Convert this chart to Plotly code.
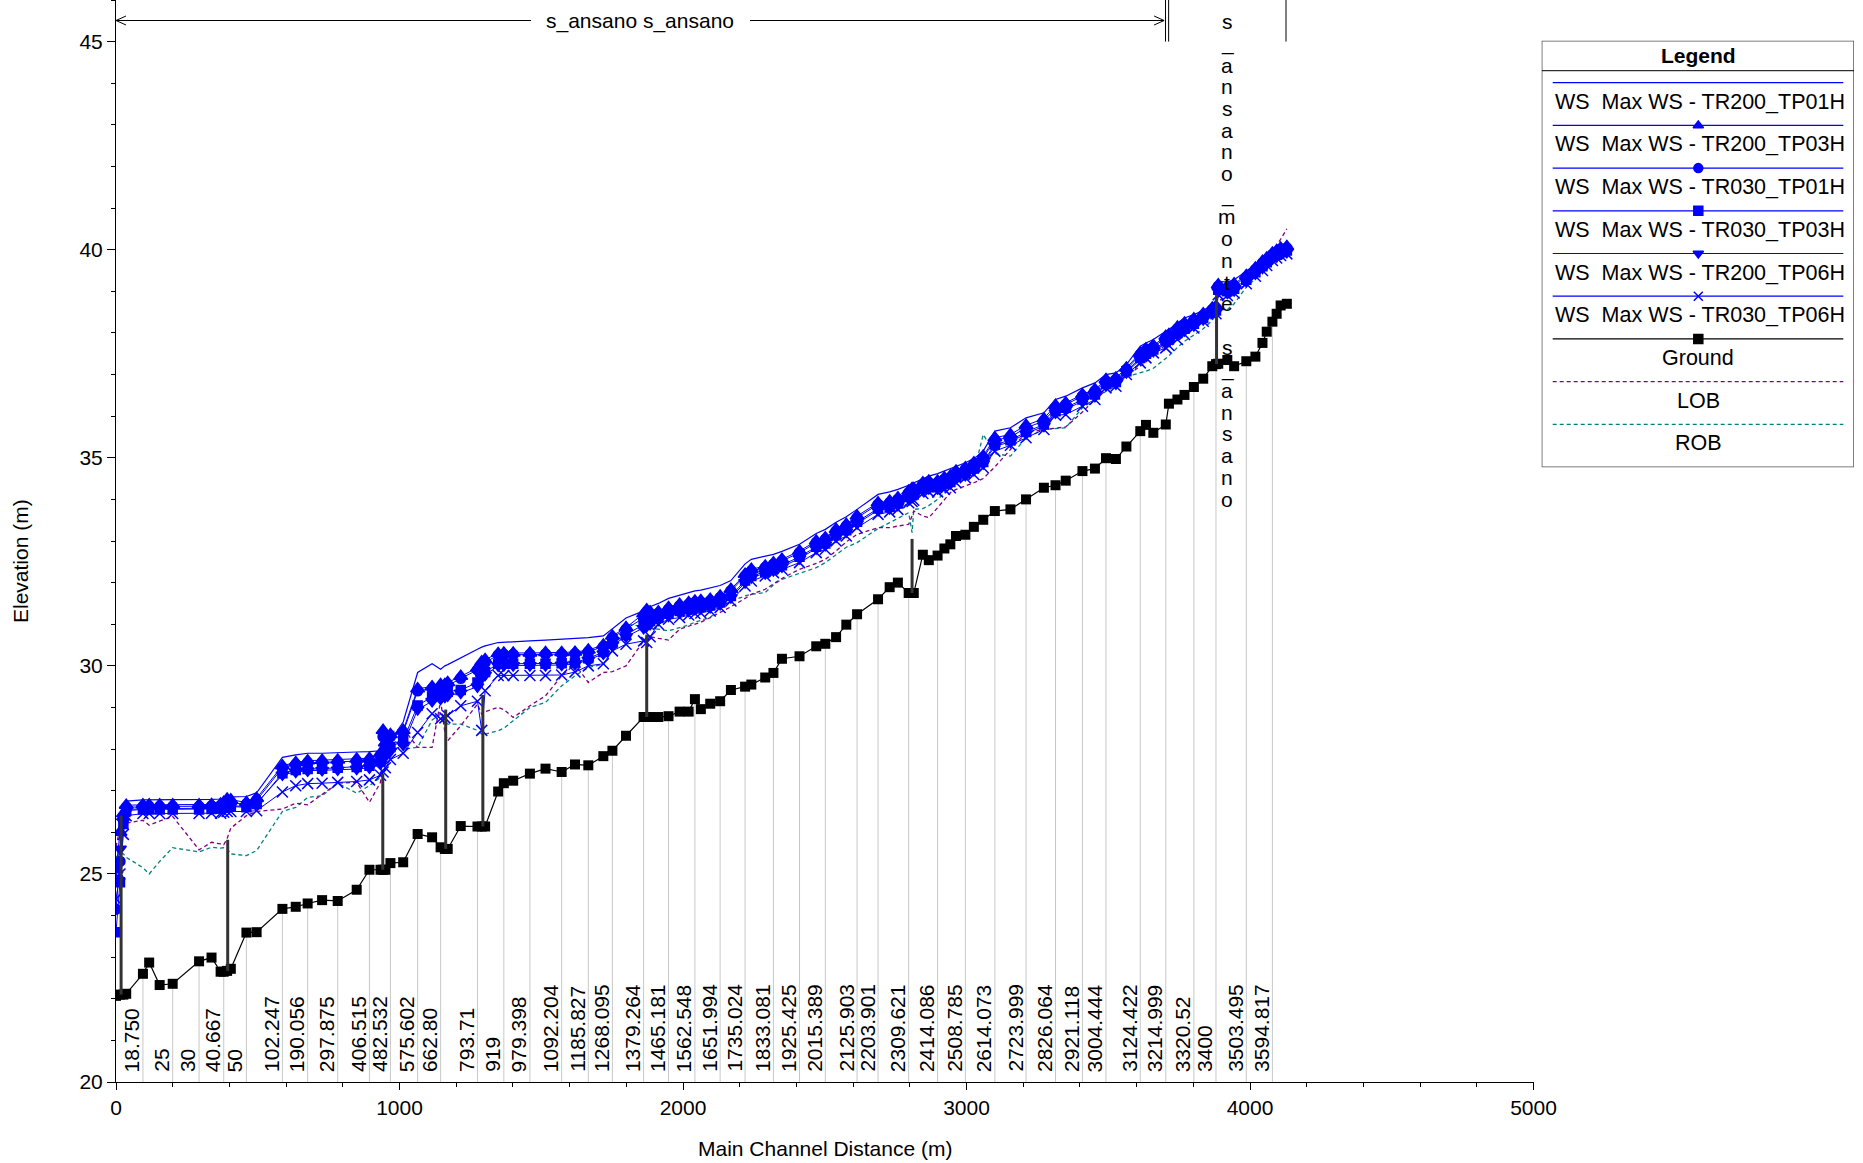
import numpy as np
import plotly.graph_objects as go

# ---------------- data ----------------
dist = [0, 14, 26, 36, 95, 117, 154, 200, 293, 337,
        369, 380, 392, 405, 460, 496, 587, 634, 676, 727,
        782, 849, 894, 933, 942, 950, 968, 1013, 1064, 1115,
        1145, 1160, 1170, 1216, 1275, 1290, 1302, 1348, 1368, 1401,
        1460, 1515, 1572, 1619, 1666, 1719, 1751, 1799, 1861, 1872,
        1884, 1913, 1949, 1988, 2020, 2042, 2063, 2096, 2131, 2169,
        2219, 2241, 2290, 2319, 2349, 2411, 2470, 2502, 2540, 2576,
        2614, 2688, 2729, 2758, 2796, 2808, 2814, 2846, 2867, 2898,
        2922, 2943, 2963, 2996, 3026, 3059, 3100, 3155, 3210, 3273,
        3314, 3350, 3409, 3453, 3492, 3527, 3564, 3613, 3633, 3659,
        3703, 3714, 3744, 3769, 3802, 3835, 3867, 3880, 3888, 3920,
        3944, 3987, 4019, 4044, 4059, 4079, 4094, 4108, 4130]

ground = [22.07, 22.10, 22.10, 22.12, 22.60, 22.87, 22.33, 22.36, 22.90, 22.99,
          22.65, 22.65, 22.67, 22.72, 23.59, 23.60, 24.16, 24.21, 24.29, 24.37,
          24.35, 24.62, 25.10, 25.10, 25.10, 25.10, 25.26, 25.28, 25.96, 25.88,
          25.64, 25.60, 25.60, 26.15, 26.14, 26.14, 26.14, 26.98, 27.18, 27.24,
          27.41, 27.53, 27.45, 27.63, 27.61, 27.83, 27.96, 28.32, 28.77, 28.77,
          28.77, 28.77, 28.79, 28.90, 28.90, 29.20, 28.96, 29.09, 29.15, 29.42,
          29.50, 29.55, 29.72, 29.83, 30.17, 30.23, 30.47, 30.53, 30.69, 30.99,
          31.24, 31.60, 31.89, 32.00, 31.75, 31.75, 31.75, 32.67, 32.54, 32.65,
          32.82, 32.92, 33.12, 33.15, 33.34, 33.51, 33.72, 33.76, 34.00, 34.28,
          34.34, 34.45, 34.68, 34.74, 34.99, 34.97, 35.27, 35.64, 35.79, 35.60,
          35.80, 36.30, 36.40, 36.51, 36.70, 36.90, 37.20, 37.25, 37.26, 37.35,
          37.20, 37.32, 37.43, 37.76, 38.03, 38.27, 38.46, 38.66, 38.70]

ws_tr200_tp01h = [26.30, 26.40, 26.55, 26.75, 26.78, 26.78, 26.78, 26.78, 26.78, 26.79,
                  26.80, 26.82, 26.85, 26.85, 26.86, 26.95, 27.80, 27.86, 27.90, 27.90,
                  27.92, 27.93, 27.94, 27.96, 28.00, 28.10, 28.20, 28.65, 29.84, 30.05,
                  29.92, 30.00, 30.03, 30.20, 30.40, 30.45, 30.48, 30.56, 30.57, 30.58,
                  30.60, 30.62, 30.64, 30.66, 30.68, 30.72, 30.90, 31.15, 31.32, 31.40,
                  31.42, 31.50, 31.62, 31.70, 31.76, 31.80, 31.82, 31.88, 31.93, 32.05,
                  32.45, 32.56, 32.64, 32.68, 32.75, 32.92, 33.18, 33.28, 33.45, 33.58,
                  33.76, 34.12, 34.18, 34.24, 34.34, 34.38, 34.40, 34.50, 34.56, 34.62,
                  34.68, 34.74, 34.80, 34.88, 34.98, 35.16, 35.64, 35.72, 35.96, 36.08,
                  36.40, 36.48, 36.68, 36.80, 37.00, 37.04, 37.24, 37.68, 37.76, 37.84,
                  38.04, 38.08, 38.24, 38.36, 38.44, 38.54, 38.68, 38.72, 39.24, 39.22,
                  39.28, 39.48, 39.66, 39.82, 39.90, 40.00, 40.06, 40.12, 40.14]

ws_tr200_tp03h = [25.10, 26.00, 26.45, 26.65, 26.66, 26.66, 26.66, 26.66, 26.66, 26.67,
                  26.68, 26.72, 26.80, 26.78, 26.72, 26.82, 27.60, 27.68, 27.72, 27.73,
                  27.74, 27.76, 27.78, 27.90, 28.45, 28.15, 28.35, 28.45, 29.45, 29.50,
                  29.55, 29.55, 29.60, 29.75, 29.95, 30.10, 30.15, 30.30, 30.31, 30.31,
                  30.31, 30.32, 30.32, 30.33, 30.38, 30.50, 30.72, 30.92, 31.25, 31.35,
                  31.30, 31.30, 31.40, 31.48, 31.52, 31.56, 31.57, 31.60, 31.68, 31.84,
                  32.20, 32.32, 32.40, 32.48, 32.56, 32.76, 33.00, 33.08, 33.28, 33.40,
                  33.60, 33.92, 33.96, 34.04, 34.20, 34.26, 34.26, 34.40, 34.44, 34.44,
                  34.52, 34.56, 34.68, 34.76, 34.88, 35.04, 35.48, 35.56, 35.78, 35.94,
                  36.26, 36.32, 36.52, 36.64, 36.88, 36.92, 37.16, 37.52, 37.62, 37.70,
                  37.92, 37.96, 38.14, 38.24, 38.34, 38.46, 38.60, 38.64, 39.16, 39.12,
                  39.18, 39.38, 39.56, 39.72, 39.80, 39.92, 39.98, 40.04, 40.08]

ws_tr030_tp01h = [24.15, 25.30, 26.35, 26.60, 26.62, 26.62, 26.62, 26.62, 26.62, 26.63,
                  26.64, 26.66, 26.70, 26.70, 26.68, 26.77, 27.55, 27.63, 27.67, 27.68,
                  27.69, 27.70, 27.72, 27.85, 28.30, 28.05, 28.30, 28.40, 29.40, 29.45,
                  29.48, 29.50, 29.52, 29.70, 29.90, 30.00, 30.08, 30.26, 30.27, 30.27,
                  30.27, 30.28, 30.28, 30.29, 30.34, 30.46, 30.68, 30.88, 31.15, 31.25,
                  31.22, 31.26, 31.36, 31.44, 31.48, 31.52, 31.53, 31.56, 31.64, 31.80,
                  32.16, 32.28, 32.36, 32.44, 32.52, 32.72, 32.96, 33.04, 33.24, 33.36,
                  33.56, 33.88, 33.92, 34.00, 34.16, 34.20, 34.22, 34.36, 34.40, 34.40,
                  34.48, 34.52, 34.64, 34.72, 34.84, 35.00, 35.42, 35.50, 35.72, 35.88,
                  36.20, 36.28, 36.48, 36.60, 36.84, 36.88, 37.12, 37.48, 37.58, 37.66,
                  37.88, 37.92, 38.10, 38.20, 38.30, 38.42, 38.56, 38.60, 39.12, 39.08,
                  39.14, 39.34, 39.52, 39.68, 39.76, 39.88, 39.94, 40.00, 40.04]

ws_tr030_tp03h = [23.60, 24.80, 26.20, 26.52, 26.55, 26.55, 26.55, 26.55, 26.55, 26.56,
                  26.57, 26.59, 26.62, 26.62, 26.60, 26.68, 27.42, 27.50, 27.52, 27.53,
                  27.55, 27.57, 27.60, 27.70, 27.85, 27.90, 28.05, 28.20, 29.05, 29.25,
                  29.35, 29.35, 29.38, 29.42, 29.60, 29.80, 29.85, 30.05, 30.05, 30.05,
                  30.05, 30.05, 30.06, 30.08, 30.18, 30.33, 30.55, 30.75, 31.00, 31.05,
                  31.08, 31.15, 31.25, 31.32, 31.36, 31.40, 31.42, 31.45, 31.52, 31.68,
                  32.05, 32.16, 32.26, 32.33, 32.42, 32.62, 32.86, 32.94, 33.14, 33.26,
                  33.46, 33.78, 33.82, 33.90, 34.06, 34.10, 34.12, 34.26, 34.30, 34.30,
                  34.38, 34.42, 34.54, 34.62, 34.74, 34.90, 35.32, 35.42, 35.62, 35.80,
                  36.12, 36.20, 36.40, 36.52, 36.78, 36.82, 37.08, 37.40, 37.50, 37.60,
                  37.80, 37.84, 38.00, 38.10, 38.22, 38.36, 38.50, 38.54, 39.04, 39.00,
                  39.06, 39.28, 39.46, 39.60, 39.70, 39.82, 39.88, 39.94, 39.98]

ws_tr200_tp06h = [24.90, 25.60, 26.25, 26.55, 26.57, 26.57, 26.57, 26.57, 26.57, 26.58,
                  26.59, 26.61, 26.64, 26.64, 26.62, 26.70, 27.38, 27.45, 27.48, 27.49,
                  27.50, 27.52, 27.55, 27.65, 27.80, 27.85, 27.95, 28.10, 28.95, 29.15,
                  29.20, 29.25, 29.28, 29.35, 29.50, 29.70, 29.78, 30.00, 30.01, 30.01,
                  30.01, 30.01, 30.02, 30.04, 30.14, 30.29, 30.50, 30.70, 30.90, 30.95,
                  31.00, 31.10, 31.20, 31.28, 31.32, 31.36, 31.38, 31.41, 31.48, 31.64,
                  32.00, 32.12, 32.22, 32.29, 32.38, 32.58, 32.82, 32.90, 33.10, 33.22,
                  33.42, 33.74, 33.78, 33.86, 34.02, 34.05, 34.08, 34.22, 34.26, 34.26,
                  34.34, 34.38, 34.50, 34.58, 34.70, 34.86, 35.28, 35.38, 35.58, 35.76,
                  36.08, 36.16, 36.36, 36.48, 36.74, 36.78, 37.05, 37.36, 37.46, 37.56,
                  37.76, 37.80, 37.96, 38.06, 38.18, 38.32, 38.47, 38.50, 39.00, 38.96,
                  39.02, 39.24, 39.42, 39.56, 39.66, 39.78, 39.84, 39.90, 39.94]

ws_tr030_tp06h = [24.40, 25.00, 25.95, 26.40, 26.45, 26.45, 26.45, 26.45, 26.45, 26.46,
                  26.46, 26.48, 26.50, 26.50, 26.50, 26.52, 26.97, 27.12, 27.17, 27.18,
                  27.20, 27.22, 27.26, 27.37, 27.45, 27.55, 27.75, 27.90, 28.40, 28.85,
                  28.73, 28.75, 28.80, 29.04, 29.15, 28.45, 29.40, 29.77, 29.77, 29.77,
                  29.77, 29.77, 29.78, 29.85, 30.00, 30.05, 30.36, 30.52, 30.60, 30.56,
                  30.70, 31.00, 31.12, 31.16, 31.22, 31.26, 31.27, 31.32, 31.40, 31.56,
                  31.92, 32.04, 32.16, 32.24, 32.32, 32.48, 32.72, 32.80, 33.00, 33.12,
                  33.32, 33.64, 33.70, 33.76, 33.92, 33.95, 33.98, 34.14, 34.18, 34.18,
                  34.24, 34.28, 34.40, 34.52, 34.60, 34.76, 35.16, 35.30, 35.48, 35.68,
                  36.02, 36.04, 36.24, 36.40, 36.68, 36.72, 37.00, 37.28, 37.40, 37.52,
                  37.64, 37.70, 37.84, 37.96, 38.12, 38.28, 38.44, 38.46, 38.92, 38.90,
                  38.96, 39.18, 39.36, 39.50, 39.62, 39.74, 39.80, 39.86, 39.90]

lob = [25.65, 26.10, 26.20, 26.22, 26.29, 26.17, 26.27, 26.38, 25.58, 25.76,
       25.72, 25.70, 25.85, 26.10, 26.40, 26.50, 26.56, 26.70, 26.66, 26.92,
       27.18, 27.20, 26.72, 27.20, 28.30, 28.36, 28.40, 28.50, 28.04, 28.04,
       29.16, 28.40, 28.20, 28.56, 29.08, 28.84, 28.90, 29.00, 28.95, 28.76,
       29.04, 29.28, 29.76, 30.04, 29.60, 29.84, 29.86, 30.00, 30.60, 30.64,
       30.70, 30.66, 30.62, 30.88, 30.95, 31.00, 31.05, 31.16, 31.28, 31.42,
       31.62, 31.72, 31.84, 31.96, 32.10, 32.32, 32.46, 32.56, 32.76, 32.98,
       33.16, 33.32, 33.32, 33.36, 33.40, 33.60, 33.72, 33.60, 33.56, 33.80,
       34.00, 34.16, 34.24, 34.32, 34.40, 34.50, 34.78, 35.20, 35.60, 35.68,
       35.72, 35.74, 36.10, 36.40, 36.62, 36.76, 36.96, 37.20, 37.30, 37.48,
       37.70, 37.76, 37.92, 38.00, 38.15, 38.32, 38.50, 38.62, 38.76, 38.90,
       39.00, 39.26, 39.45, 39.60, 39.75, 39.95, 40.10, 40.25, 40.50]

rob = [25.40, 25.50, 25.48, 25.40, 25.15, 25.00, 25.30, 25.63, 25.53, 25.64,
       25.62, 25.63, 25.60, 25.48, 25.44, 25.56, 26.50, 26.60, 26.84, 26.88,
       27.18, 26.94, 27.12, 27.32, 28.00, 28.20, 28.30, 28.00, 28.04, 28.70,
       28.84, 28.70, 28.60, 28.60, 28.45, 28.36, 28.36, 28.44, 28.50, 28.68,
       29.00, 29.12, 29.52, 29.76, 29.96, 30.04, 30.37, 31.00, 30.95, 30.92,
       30.90, 30.88, 30.84, 30.92, 30.98, 31.05, 31.10, 31.16, 31.40, 31.55,
       31.68, 31.72, 31.76, 31.95, 32.08, 32.22, 32.36, 32.48, 32.68, 32.85,
       32.96, 33.30, 33.44, 33.55, 33.68, 33.20, 33.76, 33.78, 33.85, 34.00,
       34.15, 34.32, 34.40, 34.48, 34.65, 35.56, 35.10, 35.04, 35.48, 35.68,
       35.70, 35.72, 36.20, 36.40, 36.60, 36.72, 36.95, 37.04, 37.08, 37.15,
       37.40, 37.45, 37.65, 37.80, 37.95, 38.10, 38.30, 38.48, 38.56, 38.56,
       38.70, 39.10, 39.30, 39.52, 39.62, 39.78, 39.84, 39.88, 39.92]

station_labels = ["18.750", "25", "30", "40.667", "50", "102.247", "190.056", "297.875",
                  "406.515", "482.532", "575.602", "662.80", "793.71", "919", "979.398",
                  "1092.204", "1185.827", "1268.095", "1379.264", "1465.181", "1562.548",
                  "1651.994", "1735.024", "1833.081", "1925.425", "2015.389", "2125.903",
                  "2203.901", "2309.621", "2414.086", "2508.785", "2614.073", "2723.999",
                  "2826.064", "2921.118", "3004.444", "3124.422", "3214.999", "3320.52",
                  "3400", "3503.495", "3594.817"]
station_dist = [95, 200, 293, 380, 460, 587, 676, 782, 894, 968,
                1064, 1145, 1275, 1368, 1460, 1572, 1666, 1751, 1861, 1949,
                2042, 2131, 2219, 2319, 2411, 2502, 2614, 2688, 2796, 2898,
                2996, 3100, 3210, 3314, 3409, 3492, 3613, 3703, 3802, 3880,
                3987, 4079]

struct_dist = [18, 394, 941, 1163, 1294, 1872, 2808, 3882]
struct_bottom = [22.10, 22.67, 25.10, 25.60, 26.14, 28.77, 31.75, 37.25]
struct_top = [26.40, 25.82, 27.40, 28.95, 29.30, 30.75, 33.05, 38.92]

reach_main = "s_ansano s_ansano"
reach_up = "s_ansano_monte s_ansano"
reach_bounds = [0, 3697, 3702, 3713, 4127]

x_ticks = [0, 1000, 2000, 3000, 4000, 5000]
y_ticks = [20, 25, 30, 35, 40, 45]

# ---------------- layout constants ----------------
W, H = 1863, 1163
X0, X1 = 116.0, 1533.5
YB = 1082.0
FONT = "Liberation Sans, Arial, Helvetica, sans-serif"
BLUE = "#0000FF"
PURPLE = "#800080"
TEAL = "#008080"

fig = go.Figure()

# cross-section gray lines
tops = np.interp(station_dist, dist, ground)
gx, gy = [], []
for d, t in zip(station_dist, tops):
    gx += [d, d, None]
    gy += [t, 20, None]
fig.add_trace(go.Scatter(x=gx, y=gy, mode="lines", line=dict(color="#c8c8c8", width=1),
                         hoverinfo="skip", showlegend=False))

# bank lines
fig.add_trace(go.Scatter(x=dist, y=rob, mode="lines", line=dict(color=TEAL, width=1.3, dash="4px,3px"),
                         showlegend=False))
fig.add_trace(go.Scatter(x=dist, y=lob, mode="lines", line=dict(color=PURPLE, width=1.3, dash="4px,3px"),
                         showlegend=False))

ws_series = [
    (ws_tr030_tp06h, "x-thin-open", 11),
    (ws_tr200_tp06h, "triangle-down", 11),
    (ws_tr030_tp03h, "square", 9),
    (ws_tr030_tp01h, "circle", 10),
    (ws_tr200_tp03h, "triangle-up", 12),
]
for vals, sym, sz in ws_series:
    fig.add_trace(go.Scatter(x=dist, y=vals, mode="lines+markers",
                             line=dict(color=BLUE, width=1),
                             marker=dict(symbol=sym, size=sz, color=BLUE,
                                         line=dict(color=BLUE, width=1.5)),
                             showlegend=False))
fig.add_trace(go.Scatter(x=dist, y=ws_tr200_tp01h, mode="lines",
                         line=dict(color=BLUE, width=1.2), showlegend=False))

# ground
fig.add_trace(go.Scatter(x=dist, y=ground, mode="lines+markers",
                         line=dict(color="black", width=1.2),
                         marker=dict(symbol="square", size=10, color="black"),
                         showlegend=False))

# structures
sx, sy = [], []
for d, b, t in zip(struct_dist, struct_bottom, struct_top):
    sx += [d, d, None]
    sy += [b, t, None]
fig.add_trace(go.Scatter(x=sx, y=sy, mode="lines", line=dict(color="#333333", width=3),
                         showlegend=False))

annotations = []
shapes = []

# station labels
for lab, d in zip(station_labels, station_dist):
    annotations.append(dict(x=d, y=20, xref="x", yref="y", text=lab, textangle=-90,
                            showarrow=False, xanchor="right", yanchor="bottom",
                            xshift=2, yshift=8, font=dict(family=FONT, size=21, color="black")))

# reach annotation at top
px_x = 5000.0 / (X1 - X0)          # metres per pixel
px_y = 26.0 / YB                    # elevation per pixel
y_arrow = 20 + (YB - 20.5) * px_y
left_gap = (531 - X0) * px_x
right_gap = (750 - X0) * px_x
lc = dict(color="black", width=1)
shapes += [
    dict(type="line", xref="x", yref="y", x0=reach_bounds[0], x1=left_gap, y0=y_arrow, y1=y_arrow, line=lc),
    dict(type="line", xref="x", yref="y", x0=right_gap, x1=reach_bounds[1], y0=y_arrow, y1=y_arrow, line=lc),
]
ah_x, ah_y = 10 * px_x, 4.5 * px_y
for xe, sgn in [(reach_bounds[0], 1), (reach_bounds[1], -1)]:
    shapes.append(dict(type="path", xref="x", yref="y",
                       path=f"M {xe + sgn*ah_x},{y_arrow + ah_y} L {xe},{y_arrow} L {xe + sgn*ah_x},{y_arrow - ah_y}",
                       line=lc))
for xv in reach_bounds[2:]:
    shapes.append(dict(type="line", xref="x", yref="y", x0=xv, x1=xv, y0=45.0, y1=46.0, line=lc))

annotations.append(dict(x=(640 - X0) * px_x, y=y_arrow, xref="x", yref="y", text=reach_main,
                        showarrow=False, xanchor="center", yanchor="middle",
                        font=dict(family=FONT, size=21, color="black")))
# vertical reach name, one character per line
x_vert = (1227 - X0) * px_x
for i, c in enumerate(reach_up):
    if c == " ":
        continue
    yc = 21.7 + 21.7 * i
    annotations.append(dict(x=x_vert, y=1 - yc / H, xref="x", yref="paper", text=c,
                            showarrow=False, xanchor="center", yanchor="middle",
                            font=dict(family=FONT, size=21, color="black")))

# axis titles
annotations.append(dict(x=(X0 + X1) / 2 / W, y=1 - 1148 / H, xref="paper", yref="paper",
                        text="Main Channel Distance (m)", showarrow=False,
                        xanchor="center", yanchor="middle", font=dict(family=FONT, size=21, color="black")))
annotations.append(dict(x=20 / W, y=1 - 561 / H, xref="paper", yref="paper",
                        text="Elevation (m)", showarrow=False, textangle=-90,
                        xanchor="center", yanchor="middle", font=dict(family=FONT, size=21, color="black")))

# ---------------- legend (drawn on its own pixel-unit axes) ----------------
LX0, LX1, LY0, LY1 = 1541.7, 1854.0, 40.7, 467.3
legend_items = [
    ("WS\u00a0\u00a0Max WS - TR200_TP01H", BLUE, "solid", None, "left"),
    ("WS\u00a0\u00a0Max WS - TR200_TP03H", BLUE, "solid", "triangle-up", "left"),
    ("WS\u00a0\u00a0Max WS - TR030_TP01H", BLUE, "solid", "circle", "left"),
    ("WS\u00a0\u00a0Max WS - TR030_TP03H", BLUE, "solid", "square", "left"),
    ("WS\u00a0\u00a0Max WS - TR200_TP06H", BLUE, "solid", "triangle-down", "left"),
    ("WS\u00a0\u00a0Max WS - TR030_TP06H", BLUE, "solid", "x-thin-open", "left"),
    ("Ground", "black", "solid", "square", "center"),
    ("LOB", PURPLE, "4px,3px", None, "center"),
    ("ROB", TEAL, "4px,3px", None, "center"),
]
line_y0, step = 82.7, 42.7
for i, (txt, col, dash, sym, al) in enumerate(legend_items):
    yl = line_y0 + i * step
    fig.add_trace(go.Scatter(x=[1552.7, 1843.3], y=[yl, yl], mode="lines", xaxis="x2", yaxis="y2",
                             line=dict(color=col, width=1.2, dash=dash), showlegend=False,
                             hoverinfo="skip"))
    if sym:
        fig.add_trace(go.Scatter(x=[1698.3], y=[yl], mode="markers", xaxis="x2", yaxis="y2",
                                 marker=dict(symbol=sym, size=9, color=col,
                                             line=dict(color=col, width=1.5)),
                                 showlegend=False, hoverinfo="skip"))
    if al == "left":
        annotations.append(dict(x=1553, y=yl + 19, xref="x2", yref="y2", text=txt, showarrow=False,
                                xanchor="left", yanchor="middle",
                                font=dict(family=FONT, size=21.5, color="black")))
    else:
        annotations.append(dict(x=1698.3, y=yl + 19, xref="x2", yref="y2", text=txt, showarrow=False,
                                xanchor="center", yanchor="middle",
                                font=dict(family=FONT, size=21.5, color="black")))
annotations.append(dict(x=1698.3, y=55, xref="x2", yref="y2", text="<b>Legend</b>", showarrow=False,
                        xanchor="center", yanchor="middle", font=dict(family=FONT, size=21, color="black")))
shapes.append(dict(type="rect", xref="x2", yref="y2", x0=LX0, x1=LX1, y0=LY0, y1=LY1,
                   line=dict(color="#555555", width=1.5)))
shapes.append(dict(type="line", xref="x2", yref="y2", x0=LX0, x1=LX1, y0=70.7, y1=70.7,
                   line=dict(color="black", width=1)))

axis_font = dict(family=FONT, size=21, color="black")
fig.update_layout(
    width=W, height=H, autosize=False,
    margin=dict(l=0, r=0, t=0, b=0, pad=0, autoexpand=False),
    paper_bgcolor="white", plot_bgcolor="white",
    showlegend=False, hovermode=False,
    font=dict(family=FONT, color="black"),
    xaxis=dict(domain=[X0 / W, X1 / W], range=[0, 5000], anchor="y", automargin=False,
               tickmode="array", tickvals=x_ticks, ticks="outside", ticklen=7, tickwidth=1,
               tickcolor="black", showline=True, linecolor="black", linewidth=1,
               showgrid=False, zeroline=False, tickfont=axis_font,
               minor=dict(dtick=200, tick0=0, ticks="outside", ticklen=4, tickcolor="black",
                          showgrid=False)),
    yaxis=dict(domain=[(H - YB) / H, 1], range=[20, 46], anchor="x", automargin=False,
               tickmode="array", tickvals=y_ticks, ticks="outside", ticklen=8, tickwidth=1,
               tickcolor="black", showline=True, linecolor="black", linewidth=1,
               showgrid=False, zeroline=False, tickfont=axis_font,
               minor=dict(dtick=1, tick0=20, ticks="outside", ticklen=4, tickcolor="black",
                          showgrid=False)),
    xaxis2=dict(domain=[LX0 / W, LX1 / W], range=[LX0, LX1], anchor="y2", visible=False,
                automargin=False),
    yaxis2=dict(domain=[1 - LY1 / H, 1 - LY0 / H], range=[LY1, LY0], anchor="x2", visible=False,
                automargin=False),
    annotations=annotations,
    shapes=shapes,
)

fig.write_html("out.html", config={"displayModeBar": False},
               post_script="document.body.style.margin='0';")
